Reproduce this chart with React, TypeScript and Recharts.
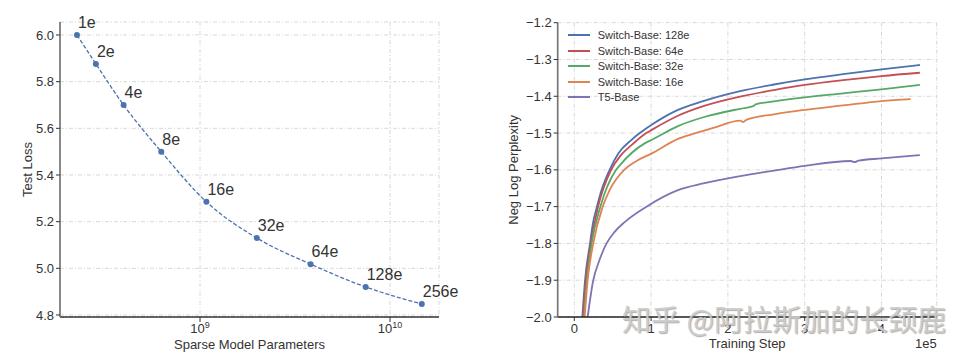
import React from 'react';
import { LineChart, Line, XAxis, YAxis, CartesianGrid, LabelList, Legend } from 'recharts';

// ---------- Left chart data ----------
const expertLabels = ['1e', '2e', '4e', '8e', '16e', '32e', '64e', '128e', '256e'];
const sparseParams = [2.25e8, 2.83e8, 3.96e8, 6.25e8, 1.08e9, 1.99e9, 3.82e9, 7.45e9, 1.47e10];
const testLoss = [6.0, 5.876, 5.7, 5.5, 5.285, 5.13, 5.018, 4.92, 4.847];
const lossTicks = [4.8, 5.0, 5.2, 5.4, 5.6, 5.8, 6.0];
const paramMajorTicks = [1e9, 1e10];
const paramMinorTicks = [2e8, 3e8, 4e8, 5e8, 6e8, 7e8, 8e8, 9e8, 2e9, 3e9, 4e9, 5e9, 6e9, 7e9, 8e9, 9e9];

// ---------- Right chart data (steps in units of 1e5) ----------
const steps128 = [0.105, 0.14, 0.205, 0.243, 0.295, 0.355, 0.46, 0.575, 0.742, 0.852, 1.003, 1.35, 1.68, 2.16, 2.6, 3.0, 3.5, 4.0, 4.5];
const ppl128 = [-2.0, -1.9, -1.8, -1.745, -1.7, -1.655, -1.6, -1.555, -1.519, -1.5, -1.478, -1.437, -1.413, -1.386, -1.368, -1.354, -1.34, -1.327, -1.315];
const steps64 = [0.113, 0.15, 0.215, 0.31, 0.48, 0.6, 0.76, 0.9375, 1.003, 1.35, 1.68, 2.16, 2.6, 3.0, 3.5, 4.0, 4.5];
const ppl64 = [-2.0, -1.9, -1.8, -1.7, -1.6, -1.562, -1.53, -1.5, -1.492, -1.453, -1.427, -1.401, -1.383, -1.369, -1.356, -1.345, -1.336];
const steps32 = [0.126, 0.165, 0.226, 0.34, 0.545, 0.595, 0.917, 1.003, 1.35, 1.68, 2.16, 2.33, 2.36, 2.6, 3.0, 3.5, 4.0, 4.5];
const ppl32 = [-2.0, -1.9, -1.8, -1.7, -1.6, -1.587, -1.528, -1.519, -1.481, -1.457, -1.434, -1.427, -1.422, -1.414, -1.403, -1.392, -1.381, -1.369];
const steps16 = [0.135, 0.174, 0.247, 0.37, 0.46, 0.65, 0.8, 1.003, 1.35, 1.68, 1.81, 2.16, 2.2, 2.24, 2.6, 3.0, 3.5, 4.0, 4.38];
const ppl16 = [-2.0, -1.9, -1.8, -1.7, -1.655, -1.6, -1.577, -1.556, -1.516, -1.494, -1.486, -1.466, -1.47, -1.464, -1.449, -1.437, -1.425, -1.413, -1.408];
const stepsT5 = [0.174, 0.247, 0.32, 0.42, 0.52, 0.656, 0.94, 1.35, 1.68, 2.16, 2.6, 3.0, 3.6, 3.65, 3.7, 4.0, 4.5];
const pplT5 = [-2.0, -1.9, -1.85, -1.8, -1.77, -1.742, -1.7, -1.655, -1.637, -1.617, -1.602, -1.589, -1.576, -1.579, -1.575, -1.569, -1.56];
const seriesNames = ['Switch-Base: 128e', 'Switch-Base: 64e', 'Switch-Base: 32e', 'Switch-Base: 16e', 'T5-Base'];
const stepTicks = [0, 1, 2, 3, 4];
const pplTicks = [-2.0, -1.9, -1.8, -1.7, -1.6, -1.5, -1.4, -1.3, -1.2];

const FONT = '"Liberation Sans", Arial, Helvetica, sans-serif';
const TEXT = '#333';
const colors = ['#4c72b0', '#c44e52', '#55a868', '#dd8452', '#8172b3'];

const lossData = sparseParams.map((p, i) => ({ params: p, loss: testLoss[i], label: expertLabels[i] }));
const toSeries = (s: number[], v: number[]) => s.map((step, i) => ({ step, v: v[i] }));
const rightSeries = [
  toSeries(steps128, ppl128),
  toSeries(steps64, ppl64),
  toSeries(steps32, ppl32),
  toSeries(steps16, ppl16),
  toSeries(stepsT5, pplT5),
];

const tickStyle = { fontFamily: FONT, fontSize: 13, fill: TEXT };
const AX_H = 0.001;

const PowTick = (props: any) => {
  const { x, y, payload } = props;
  const exp = Math.round(Math.log10(payload.value));
  return (
    <text x={x} y={y} dy={9.2} textAnchor="middle" fontFamily={FONT} fontSize={13} fill={TEXT}>
      <tspan>10</tspan>
      <tspan dy={-5.5} fontSize={9}>{exp}</tspan>
    </text>
  );
};

const PointLabel = (props: any) => {
  const { x, y, value } = props;
  return (
    <text x={x + 1} y={y - 7} fontFamily={FONT} fontSize={16} fill={TEXT}>
      {value}
    </text>
  );
};

const fmtNeg = (v: number) => (v < 0 ? '\u2212' : '') + Math.abs(v).toFixed(1);

const LegendBox = () => (
  <div style={{ fontFamily: FONT, fontSize: 11, color: TEXT }}>
    {seriesNames.map((name, i) => (
      <div key={name} style={{ display: 'flex', alignItems: 'center', height: 15.5, whiteSpace: 'nowrap' }}>
        <span style={{ width: 22.3, height: 2, background: colors[i], marginRight: 7.7, flexShrink: 0 }} />
        <span>{name}</span>
      </div>
    ))}
  </div>
);

const gridProps = { stroke: '#d2d2d2', strokeDasharray: '4 2 1 2', strokeWidth: 0.9 };

export default function App() {
  return (
    <div style={{ position: 'relative', width: 969, height: 359, background: '#fff', overflow: 'hidden' }}>
      <style>{`body{margin:0;}`}</style>
      {/* Left chart */}
      <div style={{ position: 'absolute', left: 0, top: 0 }}>
        <LineChart width={480} height={359} data={lossData} margin={{ top: 22, right: 41, bottom: 42, left: 0 }}>
          <CartesianGrid {...gridProps} />
          <XAxis
            type="number"
            dataKey="params"
            scale="log"
            domain={[1.832e8, 1.811e10]}
            allowDataOverflow
            ticks={paramMajorTicks}
            interval={0}
            height={AX_H}
            tickSize={5}
            tickMargin={2}
            tick={<PowTick />}
            axisLine={{ stroke: '#333', strokeWidth: 1.3 }}
            tickLine={{ stroke: '#333' }}
            label={{
              content: (p: any) => (
                <text x={p.viewBox.x + p.viewBox.width / 2} y={p.viewBox.y + 32} textAnchor="middle" fontFamily={FONT} fontSize={13} fill={TEXT}>
                  Sparse Model Parameters
                </text>
              ),
            }}
          />
          <XAxis
            xAxisId="minor"
            type="number"
            dataKey="params"
            scale="log"
            domain={[1.832e8, 1.811e10]}
            allowDataOverflow
            ticks={paramMinorTicks}
            interval={0}
            height={AX_H}
            tickSize={3}
            tick={false}
            axisLine={false}
            tickLine={{ stroke: '#333' }}
          />
          <YAxis
            type="number"
            domain={[4.7914, 6.0557]}
            allowDataOverflow
            ticks={lossTicks}
            interval={0}
            width={60}
            tickSize={4}
            tickMargin={2}
            tick={tickStyle}
            tickFormatter={(v: number) => v.toFixed(1)}
            axisLine={{ stroke: '#777', strokeWidth: 1.7 }}
            tickLine={{ stroke: '#333' }}
            label={{
              content: (p: any) => {
                const cy = p.viewBox.y + p.viewBox.height / 2;
                return (
                  <text x={32} y={cy} transform={`rotate(-90, 32, ${cy})`} textAnchor="middle" fontFamily={FONT} fontSize={13} fill={TEXT}>
                    Test Loss
                  </text>
                );
              },
            }}
          />
          <Line
            type="monotone"
            dataKey="loss"
            stroke={colors[0]}
            strokeWidth={1.3}
            strokeDasharray="4 2"
            dot={{ r: 3, fill: colors[0], stroke: 'none' }}
            isAnimationActive={false}
          >
            <LabelList dataKey="label" content={<PointLabel />} />
          </Line>
        </LineChart>
      </div>

      {/* Right chart */}
      <div style={{ position: 'absolute', left: 480, top: 0 }}>
        <LineChart width={489} height={359} margin={{ top: 22.7, right: 32.3, bottom: 42, left: 0 }}>
          <CartesianGrid {...gridProps} />
          <XAxis
            type="number"
            dataKey="step"
            domain={[-0.216, 4.719]}
            allowDataOverflow
            ticks={stepTicks}
            interval={0}
            height={AX_H}
            tickSize={4}
            tickMargin={3}
            tick={tickStyle}
            axisLine={{ stroke: '#222', strokeWidth: 1.3 }}
            tickLine={{ stroke: '#333' }}
            label={{
              content: (p: any) => (
                <g>
                  <text x={p.viewBox.x + p.viewBox.width / 2} y={p.viewBox.y + 31} textAnchor="middle" fontFamily={FONT} fontSize={13} fill={TEXT}>
                    Training Step
                  </text>
                  <text x={p.viewBox.x + p.viewBox.width} y={p.viewBox.y + 31} textAnchor="end" fontFamily={FONT} fontSize={13} fill={TEXT}>
                    1e5
                  </text>
                </g>
              ),
            }}
          />
          <YAxis
            type="number"
            domain={[-2.0, -1.2]}
            allowDataOverflow
            ticks={pplTicks}
            interval={0}
            width={77.7}
            tickSize={4}
            tickMargin={2}
            tick={tickStyle}
            tickFormatter={fmtNeg}
            axisLine={{ stroke: '#777', strokeWidth: 1.7 }}
            tickLine={{ stroke: '#333' }}
            label={{
              content: (p: any) => {
                const cy = p.viewBox.y + p.viewBox.height / 2;
                return (
                  <text x={38.3} y={cy} transform={`rotate(-90, 38.3, ${cy})`} textAnchor="middle" fontFamily={FONT} fontSize={13} fill={TEXT}>
                    Neg Log Perplexity
                  </text>
                );
              },
            }}
          />
          <Legend
            layout="vertical"
            align="center"
            verticalAlign="middle"
            wrapperStyle={{ left: 87.7, top: 27.3, width: 'auto', height: 'auto' }}
            content={<LegendBox />}
          />
          {rightSeries.map((d, i) => (
            <Line
              key={seriesNames[i]}
              name={seriesNames[i]}
              data={d}
              dataKey="v"
              type="monotone"
              stroke={colors[i]}
              strokeWidth={1.8}
              dot={false}
              isAnimationActive={false}
            />
          ))}
        </LineChart>
      </div>

      {/* Watermark */}
      <div
        style={{
          position: 'absolute',
          left: 622,
          top: 302,
          fontFamily: '"Noto Sans CJK SC", sans-serif',
          fontSize: 29,
          lineHeight: '32px',
          whiteSpace: 'nowrap',
          color: 'rgba(205,205,205,0.92)',
          textShadow: '1px 1px 1px rgba(110,110,110,0.55)',
          pointerEvents: 'none',
        }}
      >
        知乎 @阿拉斯加的长颈鹿
      </div>
    </div>
  );
}
